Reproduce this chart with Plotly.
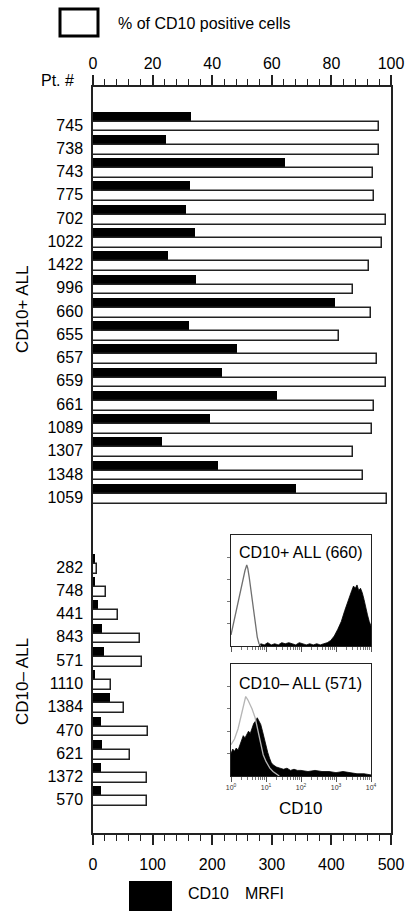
import plotly.graph_objects as go

W, H = 409, 911

# ---------------- data ----------------
pt_pos = ["745", "738", "743", "775", "702", "1022", "1422", "996", "660", "655",
          "657", "659", "661", "1089", "1307", "1348", "1059"]
pct_pos = [96.1, 96.1, 93.8, 94.4, 98.3, 97.0, 92.7, 87.1, 93.3, 82.4,
           95.3, 98.3, 94.2, 93.6, 87.1, 90.5, 98.7]
mrfi_pos = [164, 123, 322, 163, 156, 171, 126, 172, 406, 161,
            242, 217, 309, 197, 116, 209, 341]

pt_neg = ["282", "748", "441", "843", "571", "1110", "1384", "470", "621", "1372", "570"]
pct_neg = [1.4, 4.4, 8.3, 15.9, 16.5, 5.9, 10.3, 18.5, 12.4, 18.2, 18.2]
mrfi_neg = [3, 3, 8, 15, 18, 2, 29, 13, 15, 14, 14]

pct_ticks = [0, 20, 40, 60, 80, 100]
mrfi_ticks = [0, 100, 200, 300, 400, 500]

# inset histograms (log10 of CD10 intensity, relative counts)
h660_open_x = [0.0, 0.1, 0.2, 0.3, 0.35, 0.4, 0.45, 0.48, 0.52, 0.58, 0.64, 0.7, 0.75, 0.8, 0.85]
h660_open_y = [0.10, 0.25, 0.40, 0.55, 0.60, 0.68, 0.73, 0.70, 0.62, 0.48, 0.34, 0.18, 0.08, 0.02, 0.0]
h660_fill_x = [0.8, 0.85, 0.95, 1.05, 1.15, 1.25, 1.35, 1.45, 1.55, 1.65, 1.75, 1.85, 1.95,
               2.05, 2.15, 2.25, 2.35, 2.45, 2.55, 2.65, 2.75, 2.85, 2.95, 3.05, 3.15,
               3.25, 3.35, 3.45, 3.5, 3.55, 3.6, 3.65, 3.7, 3.75, 3.8, 3.85, 3.9, 3.95, 4.0]
h660_fill_y = [0.0, 0.02, 0.01, 0.03, 0.01, 0.02, 0.01, 0.03, 0.02, 0.03, 0.02, 0.01, 0.03,
               0.02, 0.01, 0.02, 0.01, 0.02, 0.01, 0.02, 0.03, 0.05, 0.09, 0.15, 0.22,
               0.32, 0.42, 0.50, 0.54, 0.52, 0.55, 0.50, 0.52, 0.48, 0.42, 0.34, 0.28, 0.22, 0.18]

h571_open_x = [0.0, 0.1, 0.2, 0.3, 0.36, 0.42, 0.48, 0.54, 0.6, 0.69, 0.78, 0.85, 0.92,
               1.0, 1.11, 1.2, 1.3, 1.38]
h571_open_y = [0.28, 0.33, 0.42, 0.55, 0.65, 0.71, 0.68, 0.64, 0.60, 0.52, 0.40, 0.28, 0.19,
               0.13, 0.07, 0.04, 0.015, 0.0]
h571_fill_x = [0.0, 0.05, 0.1, 0.15, 0.2, 0.25, 0.3, 0.35, 0.4, 0.45, 0.5, 0.55, 0.6, 0.65,
               0.7, 0.75, 0.8, 0.85, 0.9, 0.95, 1.0, 1.05, 1.1, 1.15, 1.2, 1.3, 1.4, 1.5,
               1.6, 1.7, 1.8, 1.9, 2.0, 2.2, 2.4, 2.6, 2.8, 3.0, 3.2, 3.4, 3.6, 3.8, 4.0]
h571_fill_y = [0.20, 0.24, 0.22, 0.25, 0.23, 0.28, 0.33, 0.36, 0.34, 0.37, 0.40, 0.38, 0.42,
               0.47, 0.49, 0.52, 0.49, 0.46, 0.40, 0.33, 0.28, 0.21, 0.16, 0.12, 0.10, 0.08,
               0.07, 0.06, 0.07, 0.05, 0.06, 0.05, 0.05, 0.04, 0.05, 0.04, 0.04, 0.03, 0.04,
               0.03, 0.02, 0.02, 0.01]

# ---------------- layout helpers ----------------
def px(x):
    return x / W

def py(y):
    return 1 - y / H

rows_pos = list(range(len(pt_pos)))
rows_neg = [19 + i for i in range(len(pt_neg))]
rows = rows_pos + rows_neg
labels = pt_pos + pt_neg
pcts = pct_pos + pct_neg
mrfis = mrfi_pos + mrfi_neg

BLACK_OFF = -0.37
WHITE_OFF = 0.07

FONT = "Liberation Sans, Arial, sans-serif"
LC = "#222222"

fig = go.Figure()

fig.add_trace(go.Bar(
    y=[r + BLACK_OFF for r in rows], x=mrfis, orientation="h", width=0.40,
    marker=dict(color="black", line=dict(width=0)),
    xaxis="x", yaxis="y", showlegend=False, hoverinfo="skip"))
fig.add_trace(go.Bar(
    y=[r + WHITE_OFF for r in rows], x=pcts, orientation="h", width=0.42,
    marker=dict(color="white", line=dict(color=LC, width=1.5)),
    xaxis="x2", yaxis="y", showlegend=False, hoverinfo="skip"))

# inset 1 (660)
fig.add_trace(go.Scatter(
    x=[10 ** v for v in h660_fill_x], y=h660_fill_y, mode="lines", fill="tozeroy",
    fillcolor="black", line=dict(color="black", width=0.8),
    xaxis="x3", yaxis="y3", showlegend=False, hoverinfo="skip"))
fig.add_trace(go.Scatter(
    x=[10 ** v for v in h660_open_x], y=h660_open_y, mode="lines",
    line=dict(color="#6f6f6f", width=1.3),
    xaxis="x3", yaxis="y3", showlegend=False, hoverinfo="skip"))

# inset 2 (571)
fig.add_trace(go.Scatter(
    x=[10 ** v for v in h571_fill_x], y=h571_fill_y, mode="lines", fill="tozeroy",
    fillcolor="black", line=dict(color="black", width=0.8),
    xaxis="x4", yaxis="y4", showlegend=False, hoverinfo="skip"))
fig.add_trace(go.Scatter(
    x=[10 ** v for v in h571_open_x], y=h571_open_y, mode="lines",
    line=dict(color="#b5b5b5", width=1.3),
    xaxis="x4", yaxis="y4", showlegend=False, hoverinfo="skip"))

main_xdom = [px(93), px(391)]
main_ydom = [py(833), py(87)]
ins_xdom = [px(231), px(371)]

log_major = [1, 10, 100, 1000, 10000]
log_minor = [m * d for d in [1, 10, 100, 1000] for m in range(2, 10)]

def inset_x(dom_anchor, labels_on):
    return dict(
        domain=ins_xdom, anchor=dom_anchor, type="log", range=[0, 4],
        showline=True, linecolor=LC, linewidth=1, mirror=True,
        ticks="outside", ticklen=5, tickwidth=1, tickcolor="#555",
        tickvals=log_major,
        ticktext=["10<sup>0</sup>", "10<sup>1</sup>", "10<sup>2</sup>", "10<sup>3</sup>", "10<sup>4</sup>"],
        showticklabels=labels_on, tickfont=dict(size=7, family=FONT, color="#333"),
        minor=dict(tickvals=log_minor, ticks="outside", ticklen=3, tickcolor="#777", tickwidth=1),
        showgrid=False, zeroline=False, fixedrange=True)

def inset_y(anchor, dom):
    return dict(
        domain=dom, anchor=anchor, range=[0, 1],
        showline=True, linecolor=LC, linewidth=1, mirror=True,
        ticks="outside", ticklen=3, tickwidth=1, tickcolor="#777",
        tickvals=[0.2, 0.4, 0.6, 0.8], showticklabels=False,
        showgrid=False, zeroline=False, fixedrange=True)

fig.update_layout(
    width=W, height=H,
    margin=dict(l=0, r=0, t=0, b=0, autoexpand=False),
    paper_bgcolor="white", plot_bgcolor="white",
    barmode="overlay", bargap=0,
    font=dict(family=FONT, color="black", size=16),
    xaxis=dict(
        domain=main_xdom, anchor="y", side="bottom", range=[0, 500],
        tickvals=mrfi_ticks, ticks="outside", ticklen=10, tickwidth=1.5, tickcolor=LC,
        minor=dict(dtick=20, tick0=0, ticks="outside", ticklen=6, tickwidth=1.2, tickcolor=LC),
        showline=True, linecolor=LC, linewidth=1.5,
        tickfont=dict(size=16, family=FONT), ticklabelstandoff=6,
        showgrid=False, zeroline=False, fixedrange=True),
    xaxis2=dict(
        overlaying="x", anchor="y", side="top", range=[0, 100],
        tickvals=pct_ticks, ticks="outside", ticklen=10, tickwidth=1.5, tickcolor=LC,
        minor=dict(dtick=4, tick0=0, ticks="outside", ticklen=6, tickwidth=1.2, tickcolor=LC),
        showline=True, linecolor=LC, linewidth=1.5,
        tickfont=dict(size=16, family=FONT),
        showgrid=False, zeroline=False, fixedrange=True),
    yaxis=dict(
        domain=main_ydom, anchor="x", range=[30.43, -1.63],
        tickvals=rows, ticktext=labels, ticks="", ticklabelstandoff=5,
        tickfont=dict(size=16, family=FONT),
        showline=True, linecolor=LC, linewidth=1.5, mirror=True,
        showgrid=False, zeroline=False, fixedrange=True),
    xaxis3=inset_x("y3", False),
    yaxis3=inset_y("x3", [py(646), py(535)]),
    xaxis4=inset_x("y4", True),
    yaxis4=inset_y("x4", [py(776), py(664)]),
)

ann = [
    dict(text="% of CD10 positive cells", x=px(116), y=py(24), xanchor="left", yanchor="middle",
         font=dict(size=16)),
    dict(text="Pt. #", x=px(76), y=py(80), xanchor="right", yanchor="middle", font=dict(size=16)),
    dict(text="CD10+ ALL", x=px(22), y=py(310), textangle=-90, xanchor="center", yanchor="middle",
         font=dict(size=17)),
    dict(text="CD10\u2013 ALL", x=px(22), y=py(682), textangle=-90, xanchor="center", yanchor="middle",
         font=dict(size=17)),
    dict(text="CD10+ ALL (660)", x=px(300), y=py(552), xanchor="center", yanchor="middle",
         font=dict(size=16)),
    dict(text="CD10\u2013 ALL (571)", x=px(300), y=py(683), xanchor="center", yanchor="middle",
         font=dict(size=16)),
    dict(text="CD10", x=px(300), y=py(808), xanchor="center", yanchor="middle", font=dict(size=17)),
    dict(text="CD10\u2003MRFI", x=px(186), y=py(893), xanchor="left", yanchor="middle",
         font=dict(size=16)),
]
for a in ann:
    a.update(xref="paper", yref="paper", showarrow=False)
fig.update_layout(annotations=ann)

fig.update_layout(shapes=[
    dict(type="rect", xref="paper", yref="paper", x0=px(60), x1=px(98), y0=py(36), y1=py(9),
         line=dict(color="black", width=3), fillcolor="white"),
    dict(type="rect", xref="paper", yref="paper", x0=px(129), x1=px(172), y0=py(911), y1=py(881),
         line=dict(color="black", width=0), fillcolor="black"),
])

fig.write_html("out.html")
